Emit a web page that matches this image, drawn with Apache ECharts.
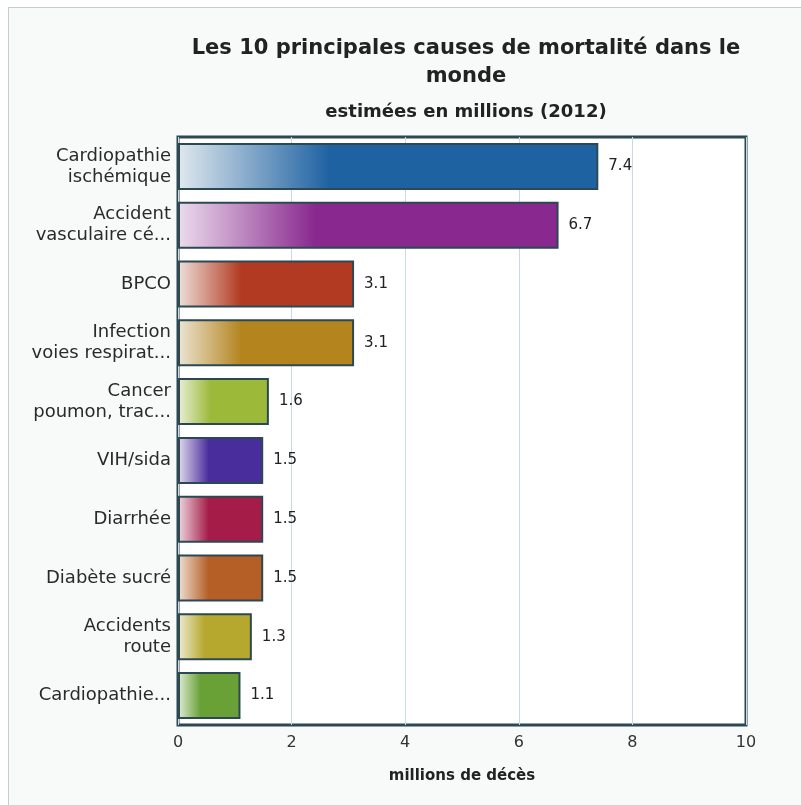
<!DOCTYPE html>
<html>
<head>
<meta charset="utf-8">
<script src="https://cdn.jsdelivr.net/npm/echarts@6/dist/echarts.min.js"></script>
<style>
html, body { margin: 0; padding: 0; background: #fff; }
#frame { position: absolute; left: 8px; top: 7px; width: 800px; height: 805px; border-left: 1px solid #c9cccd; border-top: 1px solid #c9cccd; background: #f8f9f9; }
#main { position: absolute; left: 0; top: 0; width: 801px; height: 805px; }
</style>
</head>
<body>
<div id="frame"></div>
<div id="main"></div>
<script>
var causes = ['Cardiopathie\nischémique', 'Accident\nvasculaire cé...', 'BPCO', 'Infection\nvoies respirat...', 'Cancer\npoumon, trac...', 'VIH/sida', 'Diarrhée', 'Diabète sucré', 'Accidents\nroute', 'Cardiopathie...']
var deaths = [7.4, 6.7, 3.1, 3.1, 1.6, 1.5, 1.5, 1.5, 1.3, 1.1]
var barColors = ['#1f62a2', '#89298f', '#b23a22', '#b4841f', '#9db93a', '#4a2d9d', '#a41c47', '#b55e25', '#b6a82e', '#69a137']
var lightColors = ['#e0e8ee', '#ebdcec', '#eee0da', '#ece5d4', '#e9efd6', '#e2dcee', '#eed8e0', '#eee0d4', '#eeebd4', '#e0ecd6']

var chart = echarts.init(document.getElementById('main'))

var option = {
	textStyle: { fontFamily: 'DejaVu Sans, sans-serif' },
	title: {
		text: 'Les 10 principales causes de mortalité dans le\nmonde',
		subtext: 'estimées en millions (2012)',
		left: 461,
		textAlign: 'center',
		top: 30,
		itemGap: 12,
		textStyle: { fontSize: 21, fontWeight: 'bold', color: '#222', lineHeight: 28 },
		subtextStyle: { fontSize: 18, fontWeight: 'bold', color: '#222' }
	},
	grid: {
		left: 178,
		right: 55,
		top: 137,
		bottom: 80,
		show: true,
		backgroundColor: '#fff',
		borderColor: '#2c4953',
		borderWidth: 3
	},
	xAxis: {
		type: 'value',
		min: 0,
		max: 10,
		interval: 2,
		name: 'millions de décès',
		nameLocation: 'middle',
		nameGap: 44,
		nameTextStyle: { fontSize: 15, fontWeight: 'bold', color: '#222' },
		axisLine: { show: false },
		axisTick: { show: false },
		axisLabel: { fontSize: 16, color: '#333', margin: 10 },
		splitLine: { lineStyle: { color: '#c6dbe9', width: 1 } }
	},
	yAxis: {
		type: 'category',
		data: causes,
		inverse: true,
		axisLine: { show: false },
		axisTick: { show: false },
		axisLabel: { fontSize: 18, color: '#2a2a2a', margin: 7, lineHeight: 21, align: 'right' }
	},
	series: [{
		type: 'bar',
		barCategoryGap: '20%',
		data: deaths.map(function(v, i) {
			return {
				value: v,
				itemStyle: {
					color: new echarts.graphic.LinearGradient(0, 0, 1, 0, [
						{ offset: 0, color: lightColors[i] },
						{ offset: 0.36, color: barColors[i] },
						{ offset: 1, color: barColors[i] }
					]),
					borderColor: '#2c4953',
					borderWidth: 2
				}
			}
		}),
		label: {
			show: true,
			position: 'right',
			distance: 10,
			fontSize: 15,
			color: '#222'
		}
	}]
}

chart.setOption(option)
</script>
</body>
</html>
